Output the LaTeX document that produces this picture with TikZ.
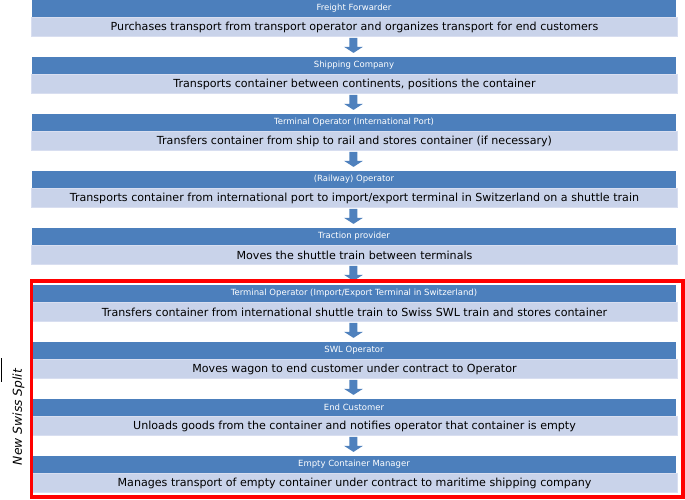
\documentclass[tikz,border=0pt]{standalone}
\usepackage{fontspec}
\setmainfont{DejaVu Sans}
\usetikzlibrary{calc}
\definecolor{hdrblue}{HTML}{4C7FBC}
\definecolor{barblue}{HTML}{C9D3EA}
\definecolor{baredge}{HTML}{D8DEF0}
\definecolor{arrowblue}{HTML}{4F81BD}
\definecolor{splitred}{HTML}{FF0000}
\tikzset{
  hdr/.style={rectangle, fill=hdrblue, minimum width=644pt, minimum height=17pt,
    inner sep=0pt, text=white, font=\fontsize{8.5}{10}\selectfont},
  bodybar/.style={rectangle, fill=barblue, draw=baredge, line width=0.6pt,
    minimum width=646pt, minimum height=19pt, inner sep=0pt,
    font=\fontsize{11.1}{13}\selectfont},
  flowarrow/.pic={\fill[arrowblue] (-4pt,7.5pt) -- (4pt,7.5pt) -- (4pt,-1.4pt) -- (9.5pt,-1.4pt)
    -- (0pt,-7.5pt) -- (-9.5pt,-1.4pt) -- (-4pt,-1.4pt) -- cycle;},
  splitbox/.style={draw=splitred, line width=3.5pt},
  splitlabel/.style={rotate=90, font=\fontsize{12.3}{14}\selectfont\itshape}
}
\begin{document}
\begin{tikzpicture}
\useasboundingbox (0pt,0pt) rectangle (685pt,-500pt);
\foreach \i/\h/\b in {
  1/{Freight Forwarder}/{Purchases transport from transport operator and organizes transport for end customers},
  2/{Shipping Company}/{Transports container between continents, positions the container},
  3/{Terminal Operator (International Port)}/{Transfers container from ship to rail and stores container (if necessary)},
  4/{(Railway) Operator}/{Transports container from international port to import/export terminal in Switzerland on a shuttle train},
  5/{Traction provider}/{Moves the shuttle train between terminals},
  6/{Terminal Operator (Import/Export Terminal in Switzerland)}/{Transfers container from international shuttle train to Swiss SWL train and stores container},
  7/{SWL Operator}/{Moves wagon to end customer under contract to Operator},
  8/{End Customer}/{Unloads goods from the container and notifies operator that container is empty},
  9/{Empty Container Manager}/{Manages transport of empty container under contract to maritime shipping company}}{
  \pgfmathsetmacro{\ytop}{57*(\i-1)}
  \node[hdr] (h\i) at (354pt,{-(\ytop+8.5)*1pt}) {\h};
  \node[bodybar] (b\i) at (354.5pt,{-(\ytop+27)*1pt}) {\b};
}
\foreach \i in {1,...,8}{
  \pgfmathtruncatemacro{\j}{\i+1}
  \path (b\i.south) -- (h\j.north) coordinate[pos=0.43] (a\i);
  \pic at ([xshift=-0.8pt]a\i) {flowarrow};
}
\draw[splitbox] (31.5pt,-281pt) rectangle (683pt,-497pt);
\node[splitlabel] (split) at (18.5pt,-417pt) {New Swiss Split};
\coordinate (barTop) at (1.5pt,-358pt);
\coordinate (barBot) at (1.5pt,-382pt);
\draw[line width=1.4pt] (barTop) -- (barBot);
\end{tikzpicture}
\end{document}
